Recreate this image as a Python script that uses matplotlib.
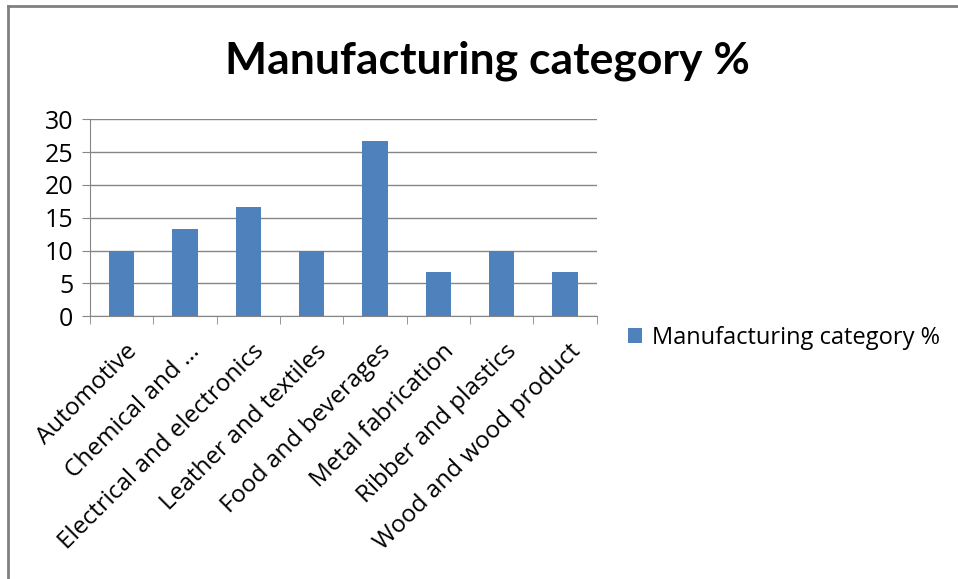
import matplotlib.pyplot as plt
from matplotlib.lines import Line2D
import numpy as np

categories = ['Automotive', 'Chemical and \u2026', 'Electrical and electronics',
              'Leather and textiles', 'Food and beverages', 'Metal fabrication',
              'Ribber and plastics', 'Wood and wood product']
share = [10.0, 13.33, 16.67, 10.0, 26.67, 6.67, 10.0, 6.67]
series_name = 'Manufacturing category %'
yticks = [0, 5, 10, 15, 20, 25, 30]

plt.rcParams['font.family'] = ['Open Sans', 'DejaVu Sans']

fig = plt.figure(figsize=(9.58, 5.79), dpi=100)
ax = fig.add_axes([0.094, 0.454, 0.529, 0.340])

x = np.arange(len(categories))
ax.bar(x, share, width=0.4, color='#4F81BD', label=series_name, zorder=3)

ax.set_xlim(-0.5, len(categories) - 0.5)
ax.set_ylim(0, 30)
ax.set_yticks(yticks)
ax.yaxis.grid(True, color='#868686', linewidth=1, zorder=0)
ax.tick_params(axis='y', length=6, color='#868686', labelsize=18, pad=6)

ax.set_xticks(x + 0.05)
ax.set_xticklabels(categories, rotation=45, ha='right', rotation_mode='anchor',
                   fontsize=17.5)
ax.tick_params(axis='x', which='major', length=0, pad=17)
ax.set_xticks(np.arange(-0.5, len(categories)), minor=True)
ax.tick_params(axis='x', which='minor', length=6, color='#868686')

for side in ['top', 'right']:
    ax.spines[side].set_visible(False)
for side in ['left', 'bottom']:
    ax.spines[side].set_color('#868686')

fig.suptitle('Manufacturing category %', x=0.509, y=0.93, fontsize=32,
             fontweight='bold', family=['Lato', 'DejaVu Sans'])

ax.legend(loc='center left', bbox_to_anchor=(1.02, -0.11), frameon=False,
          fontsize=17, handlelength=0.6, handleheight=0.6, handletextpad=0.4)

# outer chart frame
fig.add_artist(Line2D([0.008, 0.008], [0, 0.989], transform=fig.transFigure,
                      color='#808080', linewidth=2))
fig.add_artist(Line2D([0.008, 1.0], [0.989, 0.989], transform=fig.transFigure,
                      color='#808080', linewidth=2))

plt.savefig('out.png', dpi=100)
plt.close()
